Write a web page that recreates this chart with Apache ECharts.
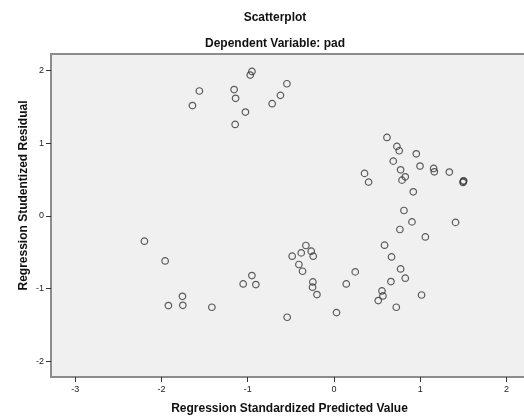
<!DOCTYPE html>
<html>
<head>
<meta charset="utf-8">
<script src="https://cdn.jsdelivr.net/npm/echarts@6/dist/echarts.min.js"></script>
<style>
html,body{margin:0;padding:0;background:#fff;}
#chart{width:524px;height:416px;}
</style>
</head>
<body>
<div id="chart"></div>
<script>
var xTicks = [-3, -2, -1, 0, 1, 2];
var yTicks = [-2, -1, 0, 1, 2];

var predicted = [
  -0.95, -0.97, -0.545, -1.56, -1.157, -1.14, -0.62, -0.716, -1.64, -1.026, -1.145,
  0.615, 0.73, 0.757, 0.955, 0.688, 0.998, 0.773, 1.156, 1.164, 1.338, 0.355, 0.827,
  0.789, 0.402, 1.504, 1.497, 1.50, 0.92, 0.812, 0.905, 1.41, 0.765, 1.06,
  -2.197, -1.957, -1.756, -1.919, -1.752, -1.415, -0.951, -1.052, -0.905,
  -0.325, -0.263, -0.379, -0.24, -0.484, -0.406, -0.364, -0.244, -0.248, -0.197,
  0.247, 0.143, 0.03, -0.542,
  0.587, 0.668, 0.773, 0.827, 0.661, 0.557, 0.568, 0.514, 1.016, 0.723
];
var residual = [
  1.99, 1.94, 1.82, 1.72, 1.74, 1.62, 1.66, 1.545, 1.52, 1.43, 1.26,
  1.08, 0.957, 0.897, 0.855, 0.754, 0.686, 0.634, 0.653, 0.607, 0.603, 0.585, 0.538,
  0.492, 0.465, 0.483, 0.46, 0.475, 0.331, 0.074, -0.083, -0.09, -0.188, -0.29,
  -0.349, -0.621, -1.108, -1.236, -1.232, -1.259, -0.822, -0.938, -0.946,
  -0.408, -0.487, -0.51, -0.556, -0.556, -0.67, -0.763, -0.91, -0.983, -1.084,
  -0.772, -0.938, -1.333, -1.397,
  -0.404, -0.566, -0.731, -0.859, -0.905, -1.034, -1.103, -1.167, -1.09, -1.259
];

var points = predicted.map(function (v, i) { return [v, residual[i]]; });

var FONT = '"Liberation Sans", Arial, sans-serif';
var chart = echarts.init(document.getElementById('chart'), null, {renderer: 'canvas'});
chart.setOption({
  backgroundColor: '#ffffff',
  animation: false,
  title: [
    {text: 'Scatterplot', left: 270, top: 7, textAlign: 'center',
     textStyle: {fontFamily: FONT, fontSize: 12, fontWeight: 'bold', color: '#111'}},
    {text: 'Dependent Variable: pad', left: 270, top: 33, textAlign: 'center',
     textStyle: {fontFamily: FONT, fontSize: 12, fontWeight: 'bold', color: '#111'}}
  ],
  grid: {
    left: 51, top: 54, right: -4, bottom: 39,
    outerBoundsMode: 'none', containLabel: false,
    show: true, backgroundColor: '#f0f0f0', borderColor: '#8c8c8c', borderWidth: 2
  },
  xAxis: {
    type: 'value', min: -3.28, max: 2.25,
    name: 'Regression Standardized Predicted Value',
    nameLocation: 'middle', nameGap: 26, nameMoveOverlap: false,
    nameTextStyle: {fontFamily: FONT, fontSize: 12, fontWeight: 'bold', color: '#111'},
    axisLine: {show: true, onZero: false, lineStyle: {color: '#8c8c8c', width: 2}},
    axisTick: {show: true, inside: false, length: 5, customValues: xTicks, lineStyle: {color: '#333', width: 1}},
    axisLabel: {customValues: xTicks, margin: 8, fontFamily: FONT, fontSize: 9, color: '#222'},
    splitLine: {show: false}
  },
  yAxis: {
    type: 'value', min: -2.22, max: 2.23,
    name: 'Regression Studentized Residual',
    nameLocation: 'middle', nameGap: 21, nameMoveOverlap: false,
    nameTextStyle: {fontFamily: FONT, fontSize: 12, fontWeight: 'bold', color: '#111', padding: [0, 0, 0, 40]},
    axisLine: {show: true, onZero: false, lineStyle: {color: '#8c8c8c', width: 2}},
    axisTick: {show: true, inside: false, length: 5, customValues: yTicks, lineStyle: {color: '#333', width: 1}},
    axisLabel: {customValues: yTicks, margin: 7, fontFamily: FONT, fontSize: 9, color: '#222'},
    splitLine: {show: false}
  },
  series: [{
    type: 'scatter',
    data: points,
    symbol: 'circle',
    symbolSize: 6.5,
    itemStyle: {color: 'rgba(0,0,0,0)', borderColor: '#333', borderWidth: 1.2}
  }]
});
</script>
</body>
</html>
